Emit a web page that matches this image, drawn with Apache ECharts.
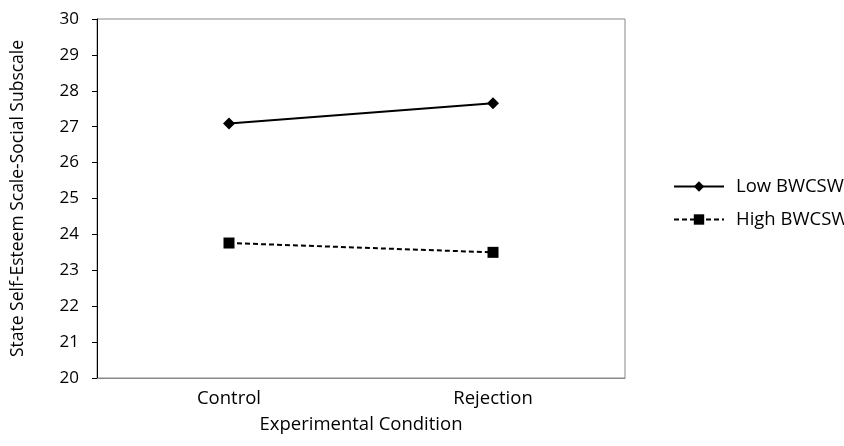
<!DOCTYPE html>
<html>
<head>
<meta charset="utf-8">
<script src="https://cdn.jsdelivr.net/npm/echarts@6/dist/echarts.min.js"></script>
<style>html,body{margin:0;padding:0;background:#fff}#chart{width:844px;height:446px}</style>
</head>
<body>
<div id="chart"></div>
<script>
const conditions = ["Control", "Rejection"];
const lowBWCSW = [27.09, 27.65];
const highBWCSW = [23.76, 23.5];
const yTicks = [20, 30, 1]; // min, max, step

const font = "Open Sans";
const chart = echarts.init(document.getElementById("chart"));
chart.setOption({
  animation: false,
  textStyle: { fontFamily: font },
  grid: { left: 97, right: 219, top: 19, bottom: 68, show: true, borderColor: "#888", borderWidth: 1 },
  legend: {
    orient: "vertical", left: 668, top: 172, itemWidth: 50, itemHeight: 13, itemGap: 14,
    textStyle: { fontFamily: font, fontSize: 18.5, color: "#000", padding: [0, 0, 0, 7] },
    data: ["Low BWCSW", "High BWCSW"]
  },
  xAxis: {
    type: "category", data: conditions,
    name: "Experimental Condition", nameLocation: "middle", nameGap: 37,
    nameTextStyle: { fontFamily: font, fontSize: 18.5, color: "#000" },
    axisLine: { lineStyle: { color: "#888" } },
    axisTick: { show: false },
    axisLabel: { fontFamily: font, fontSize: 18.5, color: "#000", margin: 11 }
  },
  yAxis: {
    type: "value", min: yTicks[0], max: yTicks[1], interval: yTicks[2],
    name: "State Self-Esteem Scale-Social Subscale", nameLocation: "middle", nameGap: 70,
    nameTextStyle: { fontFamily: font, fontSize: 17.5, color: "#000" },
    axisLine: { show: true, lineStyle: { color: "#000" } },
    axisTick: { show: true, length: 5, lineStyle: { color: "#000" } },
    splitLine: { show: false },
    axisLabel: { fontFamily: font, fontSize: 17, color: "#000", margin: 18 }
  },
  series: [
    {
      name: "Low BWCSW", type: "line", data: lowBWCSW,
      symbol: "diamond", symbolSize: 12,
      lineStyle: { color: "#000", width: 2 },
      itemStyle: { color: "#000" }
    },
    {
      name: "High BWCSW", type: "line", data: highBWCSW,
      symbol: "rect", symbolSize: 11,
      lineStyle: { color: "#000", width: 2, type: [5, 3] },
      itemStyle: { color: "#000" }
    }
  ]
});
</script>
</body>
</html>
